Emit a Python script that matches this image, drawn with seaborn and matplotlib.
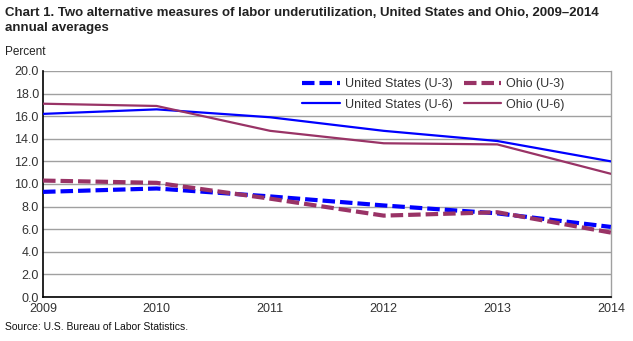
import matplotlib
matplotlib.use("Agg")
import matplotlib.pyplot as plt
import seaborn as sns
import pandas as pd

years = [2009, 2010, 2011, 2012, 2013, 2014]
us_u3 = [9.3, 9.6, 8.9, 8.1, 7.4, 6.2]
ohio_u3 = [10.3, 10.1, 8.7, 7.2, 7.5, 5.7]
us_u6 = [16.2, 16.6, 15.9, 14.7, 13.8, 12.0]
ohio_u6 = [17.1, 16.9, 14.7, 13.6, 13.5, 10.9]
series_names = ["United States (U-3)", "Ohio (U-3)", "United States (U-6)", "Ohio (U-6)"]

sns.set_theme(style="white")
plt.rcParams['font.family'] = ['Liberation Sans', 'DejaVu Sans']

rows = []
for name, vals in zip(series_names, [us_u3, ohio_u3, us_u6, ohio_u6]):
    for y, v in zip(years, vals):
        rows.append({"Year": y, "Value": v, "Series": name})
df = pd.DataFrame(rows)

fig = plt.figure(figsize=(6.33, 3.41), dpi=100)
ax = fig.add_axes([0.068, 0.129, 0.897, 0.663])

blue = "#0000FF"
maroon = "#993366"
palette = {series_names[0]: blue, series_names[1]: maroon,
           series_names[2]: blue, series_names[3]: maroon}
styles = {series_names[0]: (3, 1.2), series_names[1]: (3, 1.2),
          series_names[2]: "", series_names[3]: ""}
sizes = {series_names[0]: 3.0, series_names[1]: 3.0,
         series_names[2]: 1.6, series_names[3]: 1.6}

sns.lineplot(data=df, x="Year", y="Value", hue="Series", style="Series",
             size="Series", hue_order=series_names, style_order=series_names,
             size_order=series_names, palette=palette, dashes=styles,
             sizes=sizes, ax=ax, legend=False, zorder=3)

ax.set_xlim(2009, 2014)
ax.set_ylim(0, 20)
ax.set_yticks([i * 2.0 for i in range(11)])
ax.set_yticklabels([f"{i*2.0:.1f}" for i in range(11)])
ax.set_xticks(years)
ax.set_xticklabels([str(y) for y in years])
ax.set_xlabel("")
ax.set_ylabel("")
ax.grid(axis="y", color="#A0A0A0", linewidth=1.0)
ax.set_axisbelow(True)
ax.spines["top"].set_visible(False)
ax.spines["right"].set_color("#A0A0A0")
ax.spines["right"].set_linewidth(1.0)
ax.spines["left"].set_color("black")
ax.spines["bottom"].set_color("black")
ax.spines["left"].set_linewidth(1.2)
ax.spines["bottom"].set_linewidth(1.2)
ax.tick_params(axis="both", length=0, labelsize=9, colors="#333333", pad=3)
ax.tick_params(axis="x", pad=4)

from matplotlib.lines import Line2D
handles = [
    Line2D([], [], color=blue, lw=3.0, dashes=(3, 1.2)),
    Line2D([], [], color=blue, lw=1.6),
    Line2D([], [], color=maroon, lw=3.0, dashes=(3, 1.2)),
    Line2D([], [], color=maroon, lw=1.6),
]
labels = [series_names[0], series_names[2], series_names[1], series_names[3]]
leg = ax.legend(handles, labels, ncol=2, frameon=False, fontsize=9,
                loc="upper left", bbox_to_anchor=(0.44, 1.01),
                handlelength=3.0, handletextpad=0.4, columnspacing=0.9,
                labelspacing=0.7, borderaxespad=0.35)
for t in leg.get_texts():
    t.set_color("#333333")

fig.text(0.008, 0.98, "Chart 1. Two alternative measures of labor underutilization, United States and Ohio, 2009\u20132014\nannual averages",
         ha="left", va="top", fontsize=9.5, fontweight="bold", color="#222222",
         linespacing=1.35)
fig.text(0.008, 0.83, "Percent", ha="left", va="bottom", fontsize=8.5, color="#222222")
fig.text(0.008, 0.04, "Source: U.S. Bureau of Labor Statistics.", ha="left", va="center",
         fontsize=7.5, color="#111111")

fig.savefig("out.png", dpi=100)
